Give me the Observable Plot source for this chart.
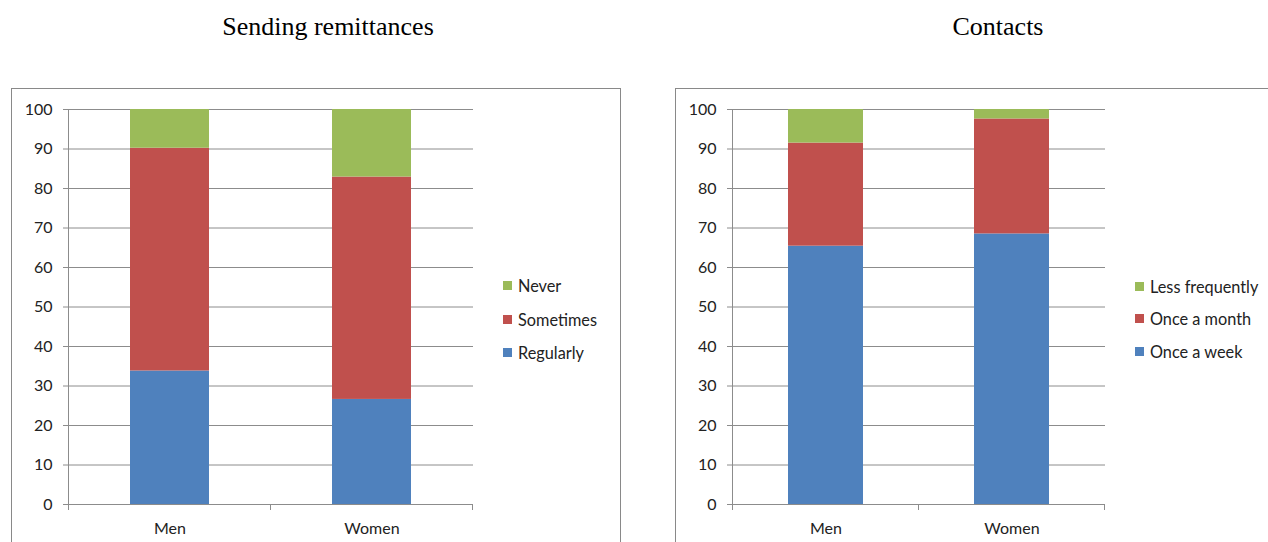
<!DOCTYPE html>
<html><head><meta charset="utf-8">
<script src="https://cdn.jsdelivr.net/npm/d3@7"></script>
<script src="https://cdn.jsdelivr.net/npm/@observablehq/plot@0.6"></script>
<style>
body{margin:0;background:#fff;}
#wrap{position:relative;width:1268px;height:542px;overflow:hidden;font-family:Lato,sans-serif;}
.title{position:absolute;font-family:"Liberation Serif",serif;font-size:26px;line-height:30px;color:#000;text-align:center;width:400px;top:12px;}
.legend{position:absolute;font-size:16.3px;color:#222;}
.legend .row{display:flex;align-items:center;}
.legend .sw{width:9px;height:9px;margin-right:6px;display:inline-block;}
.panel{position:absolute;}
.panel svg{border:1px solid #898989;display:block;max-width:none !important;}
</style></head>
<body><div id="wrap"></div>
<script>
const categories = ["Men", "Women"];
const remitSeries = ["Regularly", "Sometimes", "Never"];
const remitMen = [33.8, 56.4, 9.8];
const remitWomen = [26.6, 56.3, 17.1];
const contactSeries = ["Once a week", "Once a month", "Less frequently"];
const contactMen = [65.4, 26.1, 8.5];
const contactWomen = [68.5, 29.1, 2.4];
const yTicks = [0, 10, 20, 30, 40, 50, 60, 70, 80, 90, 100];
const seriesColors = ["#4F81BD", "#C0504D", "#9BBB59"];
const titles = ["Sending remittances", "Contacts"];

const wrap = document.getElementById("wrap");

function axisLines(index, scales, values, dimensions) {
  const {x, y} = scales;
  const x0 = dimensions.marginLeft, x1 = dimensions.width - dimensions.marginRight;
  const yb = y(0), yt = y(100);
  const g = d3.create("svg:g").attr("stroke", "#8c8c8c").attr("shape-rendering", "crispEdges");
  g.append("line").attr("x1", x0).attr("x2", x0).attr("y1", yt).attr("y2", yb);
  g.append("line").attr("x1", x0).attr("x2", x1).attr("y1", yb).attr("y2", yb);
  const bw = typeof x.bandwidth === "function" ? x.bandwidth() : x.bandwidth;
  const step = x(categories[1]) - x(categories[0]);
  const gap = step - bw;
  const edges = categories.map(c => x(c) - gap / 2);
  edges.push(x(categories[categories.length - 1]) + bw + gap / 2);
  for (const e of edges) g.append("line").attr("x1", e).attr("x2", e).attr("y1", yb).attr("y2", yb + 6);
  return g.node();
}

function makePanel(series, menVals, womenVals, cfg) {
  const vals = [menVals, womenVals];
  const rows = categories.flatMap((c, i) => series.map((s, j) => ({cat: c, series: s, value: vals[i][j]})));
  const chart = Plot.plot({
    width: cfg.width, height: 470,
    marginLeft: 56, marginRight: cfg.marginRight, marginTop: 20, marginBottom: 55,
    style: {background: "#fff", fontFamily: "Lato, sans-serif", fontSize: "16px", color: "#222"},
    x: {domain: categories, paddingInner: cfg.pad, paddingOuter: cfg.pad / 2, align: 0.5, label: null},
    y: {domain: [0, 100], label: null},
    color: {domain: series, range: seriesColors},
    marks: [
      Plot.gridY(yTicks, {stroke: "#8c8c8c", strokeOpacity: 1}),
      Plot.barY(rows, {x: "cat", y: "value", fill: "series"}),
      Plot.axisY(yTicks, {tickSize: 5, tickPadding: 11, stroke: "#8c8c8c", fill: "#222", label: null}),
      Plot.axisX({tickSize: 0, tickPadding: 18, fill: "#222", label: null}),
      axisLines
    ]
  });
  const holder = document.createElement("div");
  holder.className = "panel";
  holder.style.left = cfg.left + "px";
  holder.style.top = "88px";
  holder.style.width = (cfg.width + 2) + "px";
  holder.appendChild(chart);
  wrap.appendChild(holder);

  const t = document.createElement("div");
  t.className = "title";
  t.textContent = cfg.title;
  t.style.left = (cfg.titleCenter - 200) + "px";
  wrap.appendChild(t);

  const lg = document.createElement("div");
  lg.className = "legend";
  lg.style.left = cfg.legendLeft + "px";
  lg.style.top = cfg.legendTop + "px";
  [...series].reverse().forEach((s) => {
    const r = document.createElement("div");
    r.className = "row";
    r.style.height = cfg.legendRow + "px";
    const sw = document.createElement("span");
    sw.className = "sw";
    sw.style.background = seriesColors[series.indexOf(s)];
    r.appendChild(sw);
    r.appendChild(document.createTextNode(s));
    lg.appendChild(r);
  });
  wrap.appendChild(lg);
}

makePanel(remitSeries, remitMen, remitWomen, {
  width: 608, marginRight: 147, pad: 0.607, left: 11, title: titles[0], titleCenter: 328,
  legendLeft: 503, legendTop: 269, legendRow: 33.5
});
makePanel(contactSeries, contactMen, contactWomen, {
  width: 600, marginRight: 171, pad: 0.598, left: 675, title: titles[1], titleCenter: 998,
  legendLeft: 1135, legendTop: 270, legendRow: 32.5
});
</script>
</body></html>
